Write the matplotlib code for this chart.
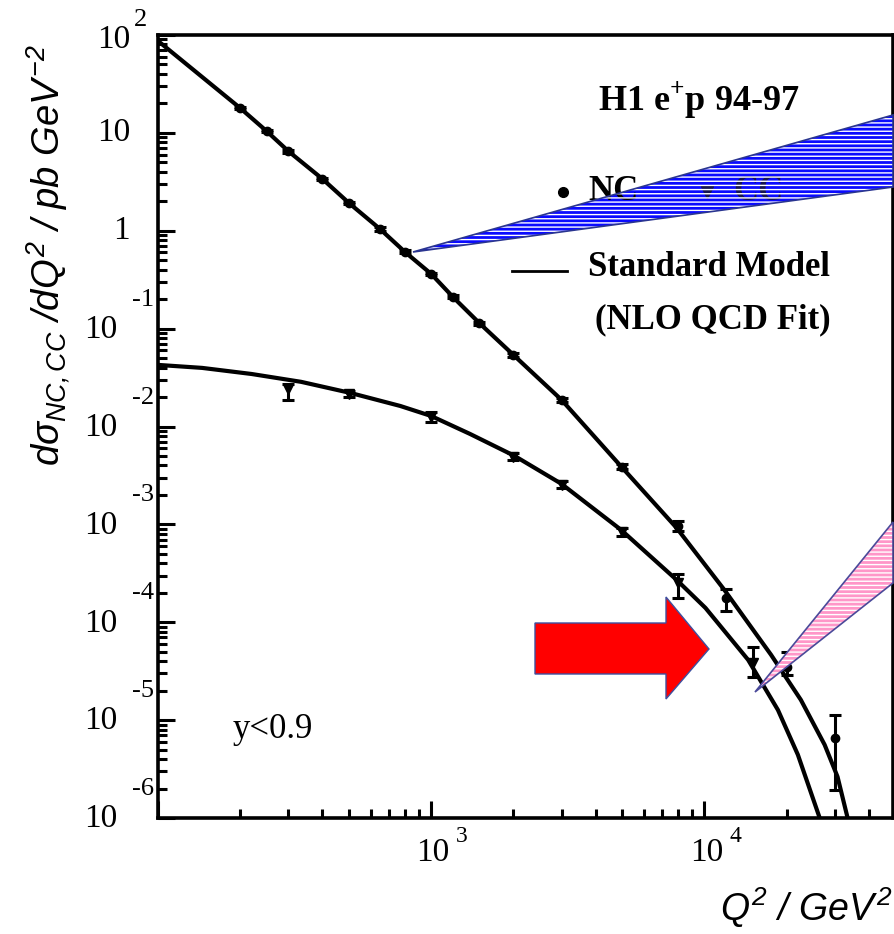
import matplotlib
matplotlib.use("Agg")
import matplotlib.pyplot as plt
from matplotlib.lines import Line2D
from matplotlib.patches import Polygon
from matplotlib.ticker import LogLocator, NullFormatter

plt.rcParams["mathtext.fontset"] = "custom"
plt.rcParams["mathtext.rm"] = "Liberation Sans:italic"
plt.rcParams["mathtext.it"] = "Liberation Sans:italic"
plt.rcParams["mathtext.bf"] = "Liberation Serif:bold"

# Standard Model curves (NLO QCD fit)
nc_curve_q2 = [100, 200, 250, 300, 400, 500, 650, 800, 1000, 1200, 1500, 2000, 3000,
               4860, 7910, 11830, 17530, 22540, 27540, 30700, 33430]
nc_curve_xs = [87, 17.9, 10.4, 6.5, 3.38, 1.92, 1.04, 0.61, 0.362, 0.211, 0.114, 0.0538, 0.0187,
               4.15e-3, 9.2e-4, 2.14e-4, 4.65e-5, 1.61e-5, 5.6e-6, 2.64e-6, 1.0e-6]

cc_curve_q2 = [100, 145, 220, 334, 507, 771, 1000, 1386, 2020, 2994, 4950, 7910,
               10090, 14450, 18580, 21980, 26420]
cc_curve_xs = [0.0426, 0.0397, 0.0344, 0.0286, 0.0220, 0.0162, 0.0128, 8.4e-3, 5.0e-3,
               2.6e-3, 8.8e-4, 2.71e-4, 1.40e-4, 4.13e-5, 1.27e-5, 4.43e-6, 1.0e-6]

# H1 e+p 94-97 data
nc_q2 = [200, 250, 300, 400, 500, 650, 800, 1000, 1200, 1500, 2000, 3000, 5000, 8000,
         12000, 20000, 30000]
nc_xs = [17.9, 10.4, 6.5, 3.38, 1.92, 1.04, 0.61, 0.362, 0.211, 0.114, 0.0538, 0.0187,
         3.9e-3, 9.6e-4, 1.75e-4, 3.5e-5, 6.6e-6]
nc_lo = [17.4, 10.1, 6.3, 3.28, 1.86, 1.0, 0.59, 0.35, 0.204, 0.11, 0.0515, 0.0178,
         3.65e-3, 8.6e-4, 1.3e-4, 2.9e-5, 1.94e-6]
nc_hi = [18.4, 10.7, 6.7, 3.48, 1.98, 1.08, 0.63, 0.374, 0.218, 0.118, 0.0561, 0.0196,
         4.15e-3, 1.07e-3, 2.2e-4, 5.0e-5, 1.13e-5]

cc_q2 = [300, 500, 1000, 2000, 3000, 5000, 8000, 15000]
cc_xs = [0.024, 0.0215, 0.0125, 4.9e-3, 2.55e-3, 8.4e-4, 2.5e-4, 3.85e-5]
cc_lo = [0.0185, 0.0200, 0.0112, 4.5e-3, 2.35e-3, 7.6e-4, 1.75e-4, 2.77e-5]
cc_hi = [0.0270, 0.0232, 0.0140, 5.3e-3, 2.8e-3, 9.2e-4, 3.1e-4, 5.6e-5]

y_exponents = [-6, -5, -4, -3, -2, -1, 0, 1, 2]
x_exponents = [3, 4]

W, H = 895, 934


def fpx(x, y):
    # pixel position (from top-left) -> figure fraction
    return x / W, 1 - y / H


fig = plt.figure(figsize=(W / 100, H / 100), dpi=100)
ax = fig.add_axes([158 / W, 1 - 818 / H, 735 / W, 783 / H])
ax.set_xscale("log")
ax.set_yscale("log")
ax.set_xlim(100, 49000)
ax.set_ylim(1e-6, 1e2)

ax.plot(nc_curve_q2, nc_curve_xs, color="black", lw=3.0, zorder=2)
ax.plot(cc_curve_q2, cc_curve_xs, color="black", lw=3.0, zorder=2)

nc_err = [[v - lo for v, lo in zip(nc_xs, nc_lo)], [hi - v for v, hi in zip(nc_xs, nc_hi)]]
cc_err = [[v - lo for v, lo in zip(cc_xs, cc_lo)], [hi - v for v, hi in zip(cc_xs, cc_hi)]]
ax.errorbar(nc_q2, nc_xs, yerr=nc_err, fmt="o", color="black", ms=6, elinewidth=2.2,
            capsize=4.5, capthick=2.2, zorder=3)
ax.errorbar(cc_q2, cc_xs, yerr=cc_err, fmt="v", color="black", ms=7, elinewidth=2.2,
            capsize=4.5, capthick=2.2, zorder=3)

for side in ["left", "bottom", "right", "top"]:
    ax.spines[side].set_linewidth(2.6)
ax.tick_params(which="both", direction="in", top=False, right=False, width=2.2,
               labelleft=False, labelbottom=False)
ax.tick_params(which="major", length=12)
ax.tick_params(which="minor", length=6.5)
ax.xaxis.set_major_locator(LogLocator(base=10, numticks=10))
ax.xaxis.set_minor_locator(LogLocator(base=10, subs=range(2, 10), numticks=20))
ax.yaxis.set_major_locator(LogLocator(base=10, numticks=20))
ax.yaxis.set_minor_locator(LogLocator(base=10, subs=range(2, 10), numticks=30))
ax.xaxis.set_minor_formatter(NullFormatter())
ax.yaxis.set_minor_formatter(NullFormatter())

# tick labels drawn PAW style: "10" with the exponent set high to the right
serif = "Liberation Serif"
for e in y_exponents:
    v = 10.0 ** e
    y0 = ax.transData.transform((1000, v))[1]
    if e == 0:
        fig.text(130 / W, y0 / H, "1", ha="right", va="center", fontsize=24, family=serif)
    elif e == 1:
        fig.text(130 / W, y0 / H, "10", ha="right", va="center", fontsize=24, family=serif)
    elif e > 0:
        fig.text(130 / W, (y0 - 5) / H, "10", ha="right", va="center", fontsize=24, family=serif)
        fig.text(134 / W, (y0 + 15) / H, str(e), ha="left", va="center", fontsize=19, family=serif)
    else:
        fig.text(117 / W, (y0 - 1) / H, "10", ha="right", va="center", fontsize=24, family=serif)
        fig.text(154 / W, (y0 + 29) / H, "-" + str(-e), ha="right", va="center", fontsize=19,
                 family=serif)

for e in x_exponents:
    x0 = ax.transData.transform((10.0 ** e, 1.0))[0]
    fig.text((x0 + 2) / W, 1 - 853 / H, "10", ha="center", va="center", fontsize=24, family=serif)
    fig.text((x0 + 25) / W, 1 - 837 / H, str(e), ha="left", va="center", fontsize=17, family=serif)

fig.text(892 / W, 1 - 908 / H, r"$Q^{2}\ /\ GeV^{2}$", ha="right", va="center", fontsize=27)
fig.text(48 / W, 1 - 255 / H, r"$d\sigma_{NC,CC}\ /dQ^{2}\ /\ pb\ GeV^{-2}$", rotation=90,
         ha="center", va="center", fontsize=27.5)

# in-plot annotations
fig.text(*fpx(699, 100), r"H1 e$^{\mathbf{+}}$p 94-97", ha="center", va="center",
         fontsize=26, family=serif, weight="bold")
fig.lines.append(Line2D([563 / W], [1 - 192 / H], marker="o", ms=7, color="black",
                        transform=fig.transFigure, zorder=5.5))
fig.text(*fpx(588, 192), "NC", ha="left", va="center", fontsize=25, family=serif,
         weight="bold", zorder=5.5)
fig.lines.append(Line2D([707 / W], [1 - 192 / H], marker="v", ms=8, color="#141450",
                        transform=fig.transFigure, zorder=5.5))
fig.text(*fpx(733, 192), "CC", ha="left", va="center", fontsize=25, family=serif,
         weight="bold", color="#141450", zorder=5.5)
fig.lines.append(Line2D([512 / W, 567 / W], [1 - 271 / H, 1 - 271 / H], color="black", lw=2,
                        transform=fig.transFigure, zorder=4))
fig.text(*fpx(588, 268), "Standard Model", ha="left", va="center", fontsize=25,
         family=serif, weight="bold")
fig.text(*fpx(595, 320), "(NLO QCD Fit)", ha="left", va="center", fontsize=25,
         family=serif, weight="bold")
fig.text(*fpx(233, 730), "y<0.9", ha="left", va="center", fontsize=25, family=serif)

# highlight overlays (pointer bands and arrow), in pixel space
blue_band = [fpx(413, 252), fpx(893, 115), fpx(893, 187)]
pink_band = [fpx(755, 692), fpx(893, 522), fpx(893, 583)]
red_arrow = [fpx(535, 623), fpx(666, 623), fpx(666, 597), fpx(709, 649),
             fpx(666, 699), fpx(666, 674), fpx(535, 674)]

for pts, fc, ec in [(blue_band, "#0a0aff", "#2a3590"), (pink_band, "#ff96c8", "#4a4a9a")]:
    fig.patches.append(Polygon(pts, closed=True, facecolor=fc, edgecolor="none", lw=0,
                               transform=fig.transFigure, zorder=5))
    fig.patches.append(Polygon(pts, closed=True, facecolor="none", edgecolor="white",
                               hatch="----", lw=0, transform=fig.transFigure, zorder=6))
    fig.patches.append(Polygon(pts, closed=True, facecolor="none", edgecolor=ec, lw=1.2,
                               transform=fig.transFigure, zorder=6.5))
fig.patches.append(Polygon(red_arrow, closed=True, facecolor="#ff0000", edgecolor="#3d4f9f",
                           lw=1.0, transform=fig.transFigure, zorder=5))

fig.savefig("out.png", dpi=100)
